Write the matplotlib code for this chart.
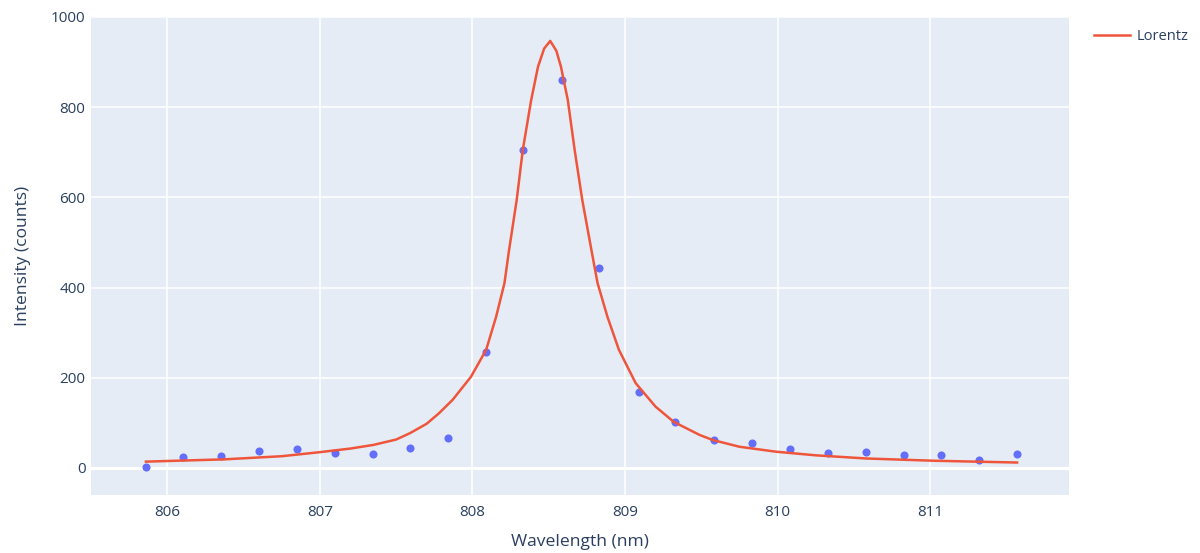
import matplotlib
matplotlib.use("Agg")
import matplotlib.pyplot as plt

# measured points
wl = [805.86, 806.10, 806.35, 806.60, 806.85, 807.10, 807.35, 807.59,
      807.84, 808.09, 808.33, 808.59, 808.83, 809.09, 809.33, 809.58,
      809.83, 810.08, 810.33, 810.58, 810.83, 811.07, 811.32, 811.57]
counts = [3, 24, 26, 37, 42, 33, 32, 45, 67, 258, 706, 860, 444, 169,
          102, 62, 55, 41, 33, 36, 28, 29, 17, 32]

# fitted Lorentz curve
fit_wl = [805.86, 806.37, 806.75, 807.0, 807.2, 807.35, 807.5, 807.59,
          807.7, 807.78, 807.87, 807.99, 808.09, 808.155, 808.21, 808.24,
          808.29, 808.33, 808.385, 808.43, 808.47, 808.51, 808.55, 808.58,
          808.625, 808.67, 808.72, 808.78, 808.82, 808.885, 808.96, 809.07,
          809.20, 809.32, 809.49, 809.575, 809.75, 809.99, 810.25, 810.58,
          811.02, 811.57]
fit_counts = [14, 19, 26, 35, 43, 51, 63, 77, 98, 121, 151, 202, 262, 335,
              410, 483, 594, 705, 816, 890, 930, 947, 925, 890, 816, 705,
              594, 483, 410, 335, 262, 188, 136, 102, 73, 62, 47, 36, 28,
              21, 16, 12]

plt.rcParams['font.family'] = ['Open Sans', 'DejaVu Sans']
txt = '#2a3f5f'

fig = plt.figure(figsize=(12, 5.53), dpi=100)
ax = fig.add_axes([91/1200, 1 - 495/553, (1069 - 91)/1200, (495 - 17)/553])
ax.set_facecolor('#E5ECF6')

ax.scatter(wl, counts, s=34, color='#636EFA', zorder=3, linewidths=0)
ax.plot(fit_wl, fit_counts, color='#EF553B', lw=1.8, zorder=4, label='Lorentz')

ax.set_xlim(805.50, 811.91)
ax.set_ylim(-60, 1000)
ax.set_xticks([806, 807, 808, 809, 810, 811])
ax.set_yticks([0, 200, 400, 600, 800, 1000])
ax.grid(True, color='white', lw=1.1)
ax.axhline(0, color='white', lw=2.2, zorder=1)
ax.set_axisbelow(True)
for s in ax.spines.values():
    s.set_visible(False)
ax.tick_params(length=0, labelsize=11, colors=txt, pad=4)
ax.tick_params(axis='x', pad=7)

ax.set_xlabel('Wavelength (nm)', fontsize=12.6, color=txt, labelpad=10)
ax.set_ylabel('Intensity (counts)', fontsize=12.6, color=txt, labelpad=14)

fig.legend(loc='upper left', bbox_to_anchor=(1081/1200, 1 - 16/553),
           frameon=False, fontsize=10.5, handlelength=2.45,
           labelcolor=txt, handletextpad=0.45)

fig.savefig('out.png', dpi=100)
